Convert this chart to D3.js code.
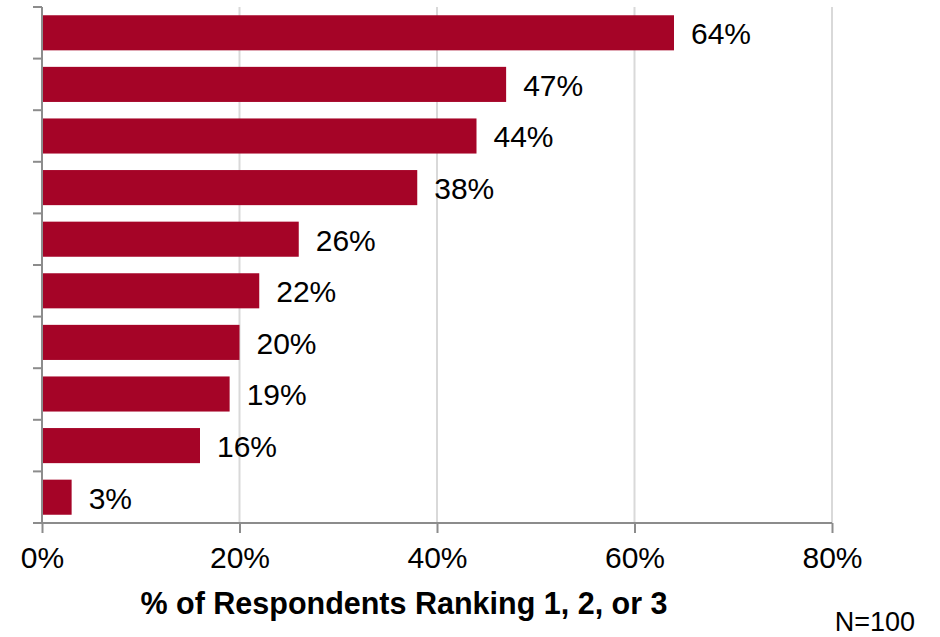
<!DOCTYPE html>
<html>
<head>
<meta charset="utf-8">
<script src="https://cdn.jsdelivr.net/npm/d3@7"></script>
<style>
  html, body { margin: 0; padding: 0; background: #fff; }
  svg { display: block; font-family: "Liberation Sans", Arial, sans-serif; }
</style>
</head>
<body>
<svg id="chart" width="940" height="637"></svg>
<script>
// Share of respondents ranking each item 1, 2 or 3 (top to bottom)
const items = ["A", "B", "C", "D", "E", "F", "G", "H", "I", "J"];
const shares = [0.64, 0.47, 0.44, 0.38, 0.26, 0.22, 0.20, 0.19, 0.16, 0.03];
const xTicks = [0, 0.2, 0.4, 0.6, 0.8];
const axisTitle = "% of Respondents Ranking 1, 2, or 3";
const sampleNote = "N=100";

const svg = d3.select("#chart");
const plot = { left: 42, right: 832, top: 7, bottom: 523 };

const x = d3.scaleLinear().domain([0, 0.8]).range([plot.left, plot.right]);
const y = d3.scaleBand().domain(items).range([plot.top, plot.bottom]).paddingInner(0.32).paddingOuter(0.16);

const fmt = d3.format(".0%");

// vertical gridlines
svg.append("g").selectAll("line").data(xTicks.slice(1)).join("line")
  .attr("x1", d => x(d)).attr("x2", d => x(d))
  .attr("y1", plot.top).attr("y2", plot.bottom)
  .attr("stroke", "#d9d9d9").attr("stroke-width", 2);

// bars
svg.append("g").selectAll("rect").data(shares).join("rect")
  .attr("x", x(0) + 1)
  .attr("y", (d, i) => y(items[i]))
  .attr("width", d => x(d) - x(0) - 1)
  .attr("height", y.bandwidth())
  .attr("fill", "#a50427");

// value labels
svg.append("g").selectAll("text").data(shares).join("text")
  .attr("x", d => x(d) + 17)
  .attr("y", (d, i) => y(items[i]) + y.bandwidth() / 2)
  .attr("dy", "0.38em")
  .attr("font-size", 30)
  .attr("fill", "#000")
  .text(d => fmt(d));

// category axis: line with outward ticks on band boundaries
const yAxis = svg.append("g");
yAxis.append("line")
  .attr("x1", plot.left).attr("x2", plot.left)
  .attr("y1", plot.top).attr("y2", plot.bottom)
  .attr("stroke", "#8c8c8c").attr("stroke-width", 2);
const bounds = items.map(c => y(c) - y.step() * y.paddingInner() / 2).concat([plot.bottom]);
bounds[0] = plot.top;
yAxis.selectAll("line.tick").data(bounds).join("line")
  .attr("class", "tick")
  .attr("x1", plot.left - 9).attr("x2", plot.left)
  .attr("y1", d => d).attr("y2", d => d)
  .attr("stroke", "#8c8c8c").attr("stroke-width", 2);

// value axis
const xAxis = svg.append("g").attr("transform", `translate(0,${plot.bottom})`)
  .call(d3.axisBottom(x).tickValues(xTicks).tickFormat(fmt).tickSize(10).tickPadding(14));
xAxis.select(".domain").attr("stroke", "#8c8c8c").attr("stroke-width", 2)
  .attr("d", `M${plot.left - 9},0H${plot.right}`);
xAxis.selectAll(".tick line").attr("stroke", "#8c8c8c").attr("stroke-width", 2);
xAxis.selectAll(".tick text").attr("font-size", 30).attr("fill", "#000")
  .attr("font-family", "'Liberation Sans', Arial, sans-serif");

// axis title
svg.append("text")
  .attr("x", 404).attr("y", 614)
  .attr("text-anchor", "middle")
  .attr("font-size", 30.5).attr("font-weight", "bold")
  .text(axisTitle);

// sample size note
svg.append("text")
  .attr("x", 915).attr("y", 631)
  .attr("text-anchor", "end")
  .attr("font-size", 27)
  .text(sampleNote);
</script>
</body>
</html>
